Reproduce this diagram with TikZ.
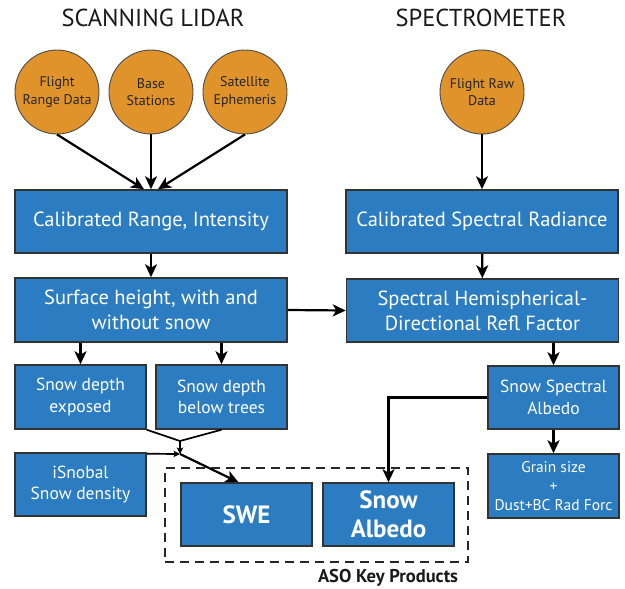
\documentclass[tikz,border=0pt]{standalone}
\usepackage{fontspec}
\setmainfont{PT Sans}
\usepackage{tikz}
\usetikzlibrary{arrows.meta}
\definecolor{stageblue}{RGB}{43,124,193}
\definecolor{sourceorange}{RGB}{224,146,43}
\begin{document}
\begin{tikzpicture}[
    x=1pt, y=-1pt,
    stage/.style={rectangle, draw=black!80, line width=1.5pt, fill=stageblue, text=white, align=center, inner sep=0pt, minimum width=131pt, minimum height=63pt, font=\fontsize{17.5}{21.5}\selectfont},
    widestage/.style={stage, minimum width=272pt, font=\fontsize{20.5}{25}\selectfont},
    source/.style={circle, draw=black!70, line width=0.9pt, fill=sourceorange, text=black!85, align=center, inner sep=0pt, minimum size=84pt, font=\fontsize{14}{17.5}\selectfont},
    product/.style={stage, font=\fontsize{25}{29}\selectfont\bfseries},
    heading/.style={font=\fontsize{24.5}{30}\selectfont, text=black!90},
    arrow/.style={-{Stealth[length=13pt, width=12pt, inset=3.5pt]}, line width=2.2pt},
    smallarrow/.style={-{Stealth[length=6.5pt, width=6.5pt, inset=1.5pt]}, line width=1.7pt}
]
\useasboundingbox (0,0) rectangle (625,589);

\node[heading] (lidar) at (153,18) {SCANNING LIDAR};
\node[heading] (spectro) at (481,18) {SPECTROMETER};

\node[source] (range) at (57,92) {Flight\\Range Data};
\node[source] (base) at (151,92) {Base\\Stations};
\node[source] (ephem) at (245,92) {Satellite\\Ephemeris};
\node[source] (raw) at (482,92) {Flight Raw\\Data};

\node[widestage] (calib) at (151,221.5) {Calibrated Range, Intensity};
\node[widestage] (radiance) at (482,221.5) {Calibrated Spectral Radiance};
\node[widestage, minimum height=64pt] (surface) at (151,310) {Surface height, with and\\without snow};
\node[widestage] (hdrf) at (482.5,310.5) {Spectral Hemispherical-\\Directional Refl Factor};

\node[stage, minimum height=64pt] (exposed) at (80.5,397) {Snow depth\\exposed};
\node[stage, minimum height=64pt] (trees) at (221.5,397) {Snow depth\\below trees};
\node[stage] (isnobal) at (80.5,484.5) {iSnobal\\Snow density};
\node[stage] (specalb) at (553.5,397.5) {Snow Spectral\\Albedo};
\node[stage, minimum height=64pt, font=\fontsize{15.5}{19}\selectfont] (grain) at (553.5,486) {Grain size\\+\\Dust+BC Rad Forc};

\node[rectangle, draw=black!85, line width=1.6pt, dash pattern=on 9pt off 6pt, minimum width=303pt, minimum height=94pt] (keybox) at (316.5,515) {};
\node[product] (swe) at (246.5,514.5) {SWE};
\node[product] (albedo) at (388.5,514.5) {Snow\\Albedo};
\node[font=\fontsize{18.5}{22}\selectfont\bfseries, text=black!90] (keylabel) at (388,578) {ASO Key Products};

\coordinate (merge) at (180,441);
\coordinate (hub) at (180,454);

\draw[arrow] (range.south) -- ([xshift=-7pt]calib.north);
\draw[arrow] (base) -- (calib.north);
\draw[arrow] (ephem.south) -- ([xshift=7pt]calib.north);
\draw[arrow] (raw) -- (radiance);
\draw[arrow] (calib) -- (surface);
\draw[arrow] (radiance) -- (hdrf);
\draw[arrow] (surface.east) -- (hdrf.west);
\draw[arrow] (exposed.north |- surface.south) -- (exposed.north);
\draw[arrow] (trees.north |- surface.south) -- (trees.north);
\draw[arrow] (specalb.north |- hdrf.south) -- (specalb.north);
\draw[arrow] (specalb) -- (grain);
\draw[arrow] (specalb.west) -| (albedo.north);

\draw[line width=1.7pt] (exposed.south east) -- (merge);
\draw[line width=1.7pt] (trees.south) -- (merge);
\draw[smallarrow] (merge) -- (hub);
\draw[smallarrow] ([yshift=-1.5pt]isnobal.north east) -- (hub);
\draw[arrow] (hub) -- ([xshift=-8pt]swe.north);
\end{tikzpicture}
\end{document}
